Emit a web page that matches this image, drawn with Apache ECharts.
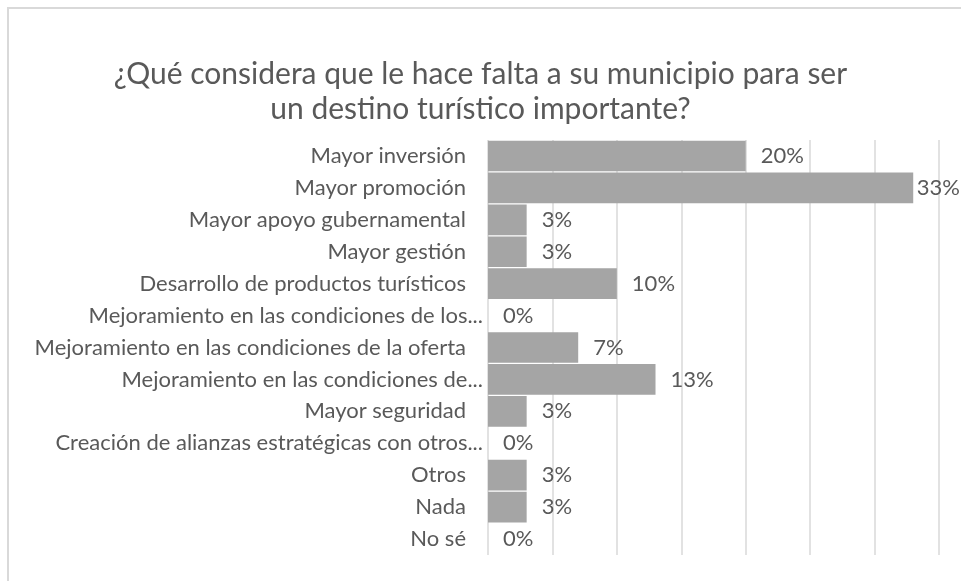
<!DOCTYPE html>
<html>
<head>
<meta charset="utf-8">
<script src="https://cdn.jsdelivr.net/npm/echarts@6/dist/echarts.min.js"></script>
<style>
  html, body { margin: 0; padding: 0; background: #fff; }
  #chart { width: 961px; height: 581px; }
</style>
</head>
<body>
<div id="chart"></div>
<script>
// Survey answers (percent of respondents)
const titleLines = ['¿Qué considera que le hace falta a su municipio para ser', 'un destino turístico importante?'];
const categories = [
  'Mayor inversión',
  'Mayor promoción',
  'Mayor apoyo gubernamental',
  'Mayor gestión',
  'Desarrollo de productos turísticos',
  'Mejoramiento en las condiciones de los...',
  'Mejoramiento en las condiciones de la oferta',
  'Mejoramiento en las condiciones de...',
  'Mayor seguridad',
  'Creación de alianzas estratégicas con otros...',
  'Otros',
  'Nada',
  'No sé'
];
const values = [20, 33, 3, 3, 10, 0, 7, 13, 3, 0, 3, 3, 0];
const axisMax = 35;
const axisStep = 5;

const FONT = 'Lato, "Noto Sans", sans-serif';
const TEXT = '#595959';
const CANVAS_W = 961;

const chart = echarts.init(document.getElementById('chart'), null, { renderer: 'canvas' });
chart.setOption({
  backgroundColor: '#fff',
  animation: false,
  title: {
    text: titleLines.join('\n'),
    left: 'center',
    top: 52,
    textStyle: { fontFamily: FONT, fontSize: 30, fontWeight: 'normal', color: TEXT, lineHeight: 35 }
  },
  graphic: [{
    type: 'rect',
    shape: { x: 8, y: 8, width: 1000, height: 700 },
    style: { fill: 'none', stroke: '#D9D9D9', lineWidth: 2 },
    silent: true
  }],
  grid: { left: 488, right: 22, top: 140, bottom: 26, containLabel: false },
  xAxis: {
    type: 'value',
    min: 0,
    max: axisMax,
    interval: axisStep,
    axisLabel: { show: false },
    axisLine: { show: false },
    axisTick: { show: false },
    splitLine: { show: true, lineStyle: { color: '#D9D9D9', width: 1.5 } }
  },
  yAxis: {
    type: 'category',
    data: categories,
    inverse: true,
    axisLine: { show: false },
    axisTick: { show: false },
    axisLabel: {
      margin: 5,
      fontFamily: FONT,
      fontSize: 22,
      color: TEXT,
      formatter: function (v) {
        return v.endsWith('...') ? v : '{p|' + v + '}';
      },
      rich: {
        p: { fontFamily: FONT, fontSize: 22, color: TEXT, padding: [0, 17, 0, 0] }
      }
    }
  },
  series: [{
    type: 'bar',
    data: values,
    barCategoryGap: '4%',
    itemStyle: { color: '#A5A5A5' },
    label: {
      show: true,
      position: 'right',
      distance: 15,
      formatter: function (p) { return p.value + '%'; },
      fontFamily: FONT,
      fontSize: 22,
      color: TEXT
    },
    // keep value labels inside the canvas
    labelLayout: function (p) {
      const r = p.labelRect;
      if (r.x + r.width > CANVAS_W - 1) {
        return {
          x: CANVAS_W - 1 - r.width,
          y: r.y + r.height / 2,
          align: 'left',
          verticalAlign: 'middle'
        };
      }
    }
  }]
});
</script>
</body>
</html>
